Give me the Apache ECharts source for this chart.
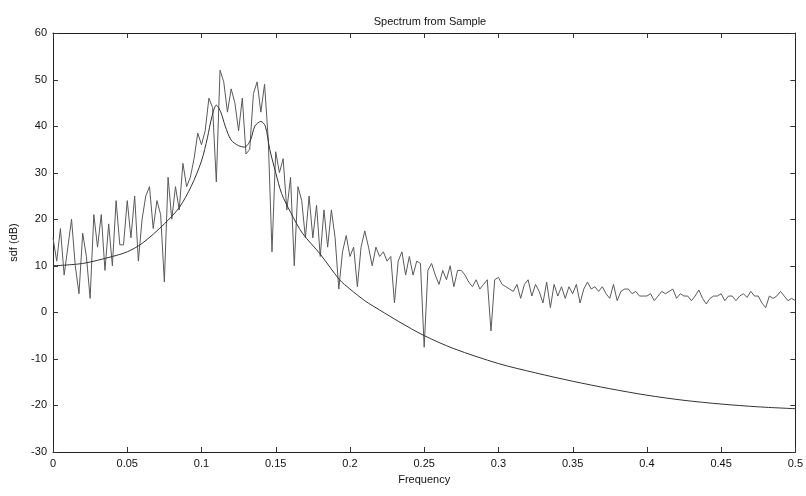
<!DOCTYPE html>
<html>
<head>
<meta charset="utf-8">
<script src="https://cdn.jsdelivr.net/npm/echarts@6/dist/echarts.min.js"></script>
<style>
  html, body { margin: 0; padding: 0; background: #fff; }
  #chart { width: 806px; height: 496px; }
</style>
</head>
<body>
<div id="chart"></div>
<script>
// frequency grid of the sample spectrum (0 .. 0.5)
const FREQ_STEP = 0.0025

// sample spectrum (dB), one value per FREQ_STEP
const sampleSdf = [
  16, 11, 18, 8, 14, 20, 10, 4, 17, 12,
  3, 21, 14, 21, 9, 19, 10, 24, 14.5, 14.5,
  24, 16, 25, 11, 20, 25, 27, 18, 24, 21,
  6.5, 29, 20, 27, 22, 32, 27, 29, 33, 38.5,
  36, 39, 46, 44, 28, 52, 49.5, 43, 48, 45,
  39, 46, 34, 35, 47, 49.5, 43, 49, 37, 13,
  34.5, 30, 33, 22, 29, 10, 27, 24, 16, 25,
  16, 23, 12, 22, 14, 22, 16, 5, 13, 16.5,
  12, 14, 5.5, 14, 17.5, 14, 10, 14, 12, 13,
  11, 12, 2, 11, 13, 8, 12, 8, 11, 10.5,
  -7.5, 9, 10.5, 8, 6, 9, 7, 10, 5.5, 9,
  9, 8, 6.5, 5.5, 7, 5, 6, 7, -4, 7,
  7.5, 6, 5.5, 5, 4.5, 6, 3, 6, 7, 3.5,
  6, 4.5, 2, 6.5, 1, 6, 3.5, 5.5, 3, 5.5,
  4, 6, 2, 5, 6.5, 5, 5.5, 4.5, 5.5, 4,
  3, 6, 2.5, 4.5, 5, 5, 4, 4.5, 3.5, 3.5,
  3.5, 4, 2.5, 3.5, 4.5, 4, 4.5, 5, 3, 4,
  3.5, 3.5, 2.5, 3.5, 4.8, 3, 1.8, 3, 3.5, 3.5,
  4, 2.5, 3.5, 3.5, 2.5, 3.5, 4, 3.2, 4.5, 3.5,
  3.5, 2, 1, 3.5, 3, 3.5, 4.5, 3.5, 2.5, 3,
  2.5
]

// theoretical spectrum (smooth curve)
const trueFreq = [0, 0.02, 0.04, 0.05, 0.06, 0.075, 0.085, 0.093, 0.1, 0.104,
  0.107, 0.11, 0.113, 0.116, 0.12, 0.125, 0.129, 0.133, 0.136, 0.14,
  0.143, 0.146, 0.15, 0.154, 0.16, 0.168, 0.18, 0.193, 0.2, 0.21,
  0.22, 0.233, 0.25, 0.27, 0.3, 0.325, 0.35, 0.375, 0.4, 0.425,
  0.45, 0.475, 0.5]
const trueSdf = [10, 10.5, 12, 13, 14.8, 19, 22.5, 27, 32.5, 37.5,
  42, 44.5, 43, 40, 37, 35.8, 35.5, 37, 40, 41,
  40, 35, 30, 25.5, 21.5, 17, 12.5, 7, 5, 2.5,
  0.5, -2, -5, -7.8, -11, -13, -14.8, -16.4, -17.8, -18.9,
  -19.7, -20.3, -20.7]

// tick positions on the frame
const xTicks = [0, 0.05, 0.1, 0.15, 0.2, 0.25, 0.3, 0.35, 0.4, 0.45, 0.5]
const yTicks = [-30, -20, -10, 0, 10, 20, 30, 40, 50, 60]

const X_MIN = 0, X_MAX = 0.5, Y_MIN = -30, Y_MAX = 60
const TICK = 5

const sampleData = sampleSdf.map((v, i) => [+(i * FREQ_STEP).toFixed(4), v])
const trueData = trueFreq.map((f, i) => [f, trueSdf[i]])

const FONT = 'Liberation Sans'
const chart = echarts.init(document.getElementById('chart'))

const lineBlack = { show: true, onZero: false, lineStyle: { color: '#222', width: 1 } }
const tickStyle = { stroke: '#333', lineWidth: 1 }

// inward ticks on all four sides (matlab style frame)
function renderXTick (params, api) {
  const v = api.value(0)
  const b = api.coord([v, Y_MIN])
  const t = api.coord([v, Y_MAX])
  const x = Math.round(b[0]) + 0.5
  return {
    type: 'group',
    children: [
      { type: 'line', shape: { x1: x, y1: b[1], x2: x, y2: b[1] - TICK }, style: tickStyle },
      { type: 'line', shape: { x1: x, y1: t[1], x2: x, y2: t[1] + TICK }, style: tickStyle }
    ]
  }
}
function renderYTick (params, api) {
  const v = api.value(1)
  const l = api.coord([X_MIN, v])
  const r = api.coord([X_MAX, v])
  const y = Math.round(l[1]) + 0.5
  return {
    type: 'group',
    children: [
      { type: 'line', shape: { x1: l[0], y1: y, x2: l[0] + TICK, y2: y }, style: tickStyle },
      { type: 'line', shape: { x1: r[0], y1: y, x2: r[0] - TICK, y2: y }, style: tickStyle }
    ]
  }
}

chart.setOption({
  animation: false,
  title: {
    text: 'Spectrum from Sample',
    left: 425,
    top: 11,
    textAlign: 'center',
    textStyle: { fontFamily: FONT, fontSize: 11, fontWeight: 'normal', color: '#111' }
  },
  grid: { left: 53, right: 9, top: 33, bottom: 44 },
  xAxis: [
    {
      type: 'value',
      min: X_MIN,
      max: X_MAX,
      interval: 0.05,
      name: 'Frequency',
      nameLocation: 'middle',
      nameGap: 22,
      nameTextStyle: { fontFamily: FONT, fontSize: 11, color: '#111' },
      axisLine: lineBlack,
      axisTick: { show: false },
      splitLine: { show: false },
      axisLabel: { fontFamily: FONT, fontSize: 11, color: '#111', margin: 6 }
    },
    {
      type: 'value',
      position: 'top',
      min: X_MIN,
      max: X_MAX,
      interval: 0.05,
      axisLine: lineBlack,
      axisTick: { show: false },
      splitLine: { show: false },
      axisLabel: { show: false }
    }
  ],
  yAxis: [
    {
      type: 'value',
      min: Y_MIN,
      max: Y_MAX,
      interval: 10,
      name: 'sdf (dB)',
      nameLocation: 'middle',
      nameGap: 34,
      nameTextStyle: { fontFamily: FONT, fontSize: 11, color: '#111' },
      axisLine: lineBlack,
      axisTick: { show: false },
      splitLine: { show: false },
      axisLabel: { fontFamily: FONT, fontSize: 11, color: '#111', margin: 6 }
    },
    {
      type: 'value',
      position: 'right',
      min: Y_MIN,
      max: Y_MAX,
      interval: 10,
      axisLine: lineBlack,
      axisTick: { show: false },
      splitLine: { show: false },
      axisLabel: { show: false }
    }
  ],
  series: [
    {
      name: 'sample',
      type: 'line',
      data: sampleData,
      showSymbol: false,
      lineStyle: { color: '#5a5a5a', width: 1 }
    },
    {
      name: 'true',
      type: 'line',
      data: trueData,
      smooth: 0.3,
      showSymbol: false,
      lineStyle: { color: '#333', width: 1 }
    },
    {
      type: 'custom',
      silent: true,
      clip: false,
      renderItem: renderXTick,
      data: xTicks.map(v => [v, 0])
    },
    {
      type: 'custom',
      silent: true,
      clip: false,
      renderItem: renderYTick,
      data: yTicks.map(v => [0, v])
    }
  ]
})
</script>
</body>
</html>
